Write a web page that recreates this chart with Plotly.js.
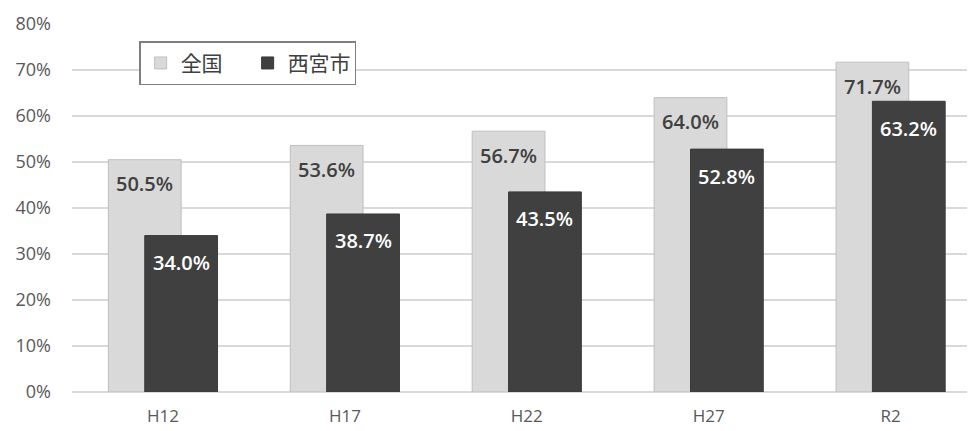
<!DOCTYPE html>
<html><head><meta charset="utf-8">
<script src="https://cdn.plot.ly/plotly-3.0.1.min.js"></script>
<style>html,body{margin:0;padding:0;background:#fff;}#chart{width:968px;height:431px;}</style>
</head><body><div id="chart"></div>
<script>
const categories = ['H12', 'H17', 'H22', 'H27', 'R2'];
const national = [50.5, 53.6, 56.7, 64.0, 71.7];
const nishinomiya = [34.0, 38.7, 43.5, 52.8, 63.2];
const seriesNames = ['全国', '西宮市'];
const yTicks = [0, 10, 20, 30, 40, 50, 60, 70, 80];

const labelFont = {family: 'Open Sans, Noto Sans CJK JP, sans-serif', size: 20, weight: 600};
const fmt = v => v.toFixed(1) + '%';

const traces = [
  {type: 'bar', name: seriesNames[0], x: categories, y: national,
   offset: -0.3, width: 0.4,
   marker: {color: '#d9d9d9', line: {color: '#bfbfbf', width: 1}}, hoverinfo: 'skip'},
  {type: 'bar', name: seriesNames[1], x: categories, y: nishinomiya,
   offset: -0.1, width: 0.4,
   marker: {color: '#404040', line: {color: '#3a3a3a', width: 1}}, hoverinfo: 'skip'}
];

const pxPerUnit = 895 / 4.92;
const annotations = [];
categories.forEach((c, i) => {
  annotations.push({x: c, y: national[i], xref: 'x', yref: 'y', text: fmt(national[i]),
    showarrow: false, xshift: -0.1 * pxPerUnit, yshift: -24, yanchor: 'middle',
    font: Object.assign({color: '#404040'}, labelFont)});
  annotations.push({x: c, y: nishinomiya[i], xref: 'x', yref: 'y', text: fmt(nishinomiya[i]),
    showarrow: false, xshift: 0.1 * pxPerUnit, yshift: -27, yanchor: 'middle',
    font: Object.assign({color: '#ffffff'}, labelFont)});
});

const layout = {
  width: 968, height: 431,
  margin: {l: 72, r: 1, t: 24, b: 39},
  paper_bgcolor: '#ffffff', plot_bgcolor: '#ffffff',
  barmode: 'overlay',
  showlegend: true,
  legend: {orientation: 'h', x: 0.075, y: 0.953, xanchor: 'left', yanchor: 'top',
    bordercolor: '#7f7f7f', borderwidth: 1.5, bgcolor: '#ffffff',
    font: {family: 'Noto Sans CJK JP, sans-serif', size: 21, color: '#404040'},
    itemwidth: 30, entrywidth: 62, traceorder: 'normal'},
  xaxis: {type: 'category', range: [-0.5, 4.42], showgrid: false, zeroline: false,
    showline: false, ticks: '', ticklabelstandoff: 12,
    tickfont: {family: 'Open Sans, sans-serif', size: 17, color: '#595959'}},
  yaxis: {range: [0, 80], tickvals: yTicks, ticktext: yTicks.map(v => v + '%'),
    showgrid: true, gridcolor: '#d9d9d9', gridwidth: 1.5, zeroline: true, zerolinecolor: '#d9d9d9',
    zerolinewidth: 1.5, showline: false, ticks: '', ticklabelstandoff: 20,
    tickfont: {family: 'Open Sans, sans-serif', size: 18, color: '#595959'}},
  annotations: annotations,
  font: {family: 'Open Sans, Noto Sans CJK JP, sans-serif'}
};

Plotly.newPlot('chart', traces, layout, {staticPlot: true, displayModeBar: false});
</script>
</body></html>
